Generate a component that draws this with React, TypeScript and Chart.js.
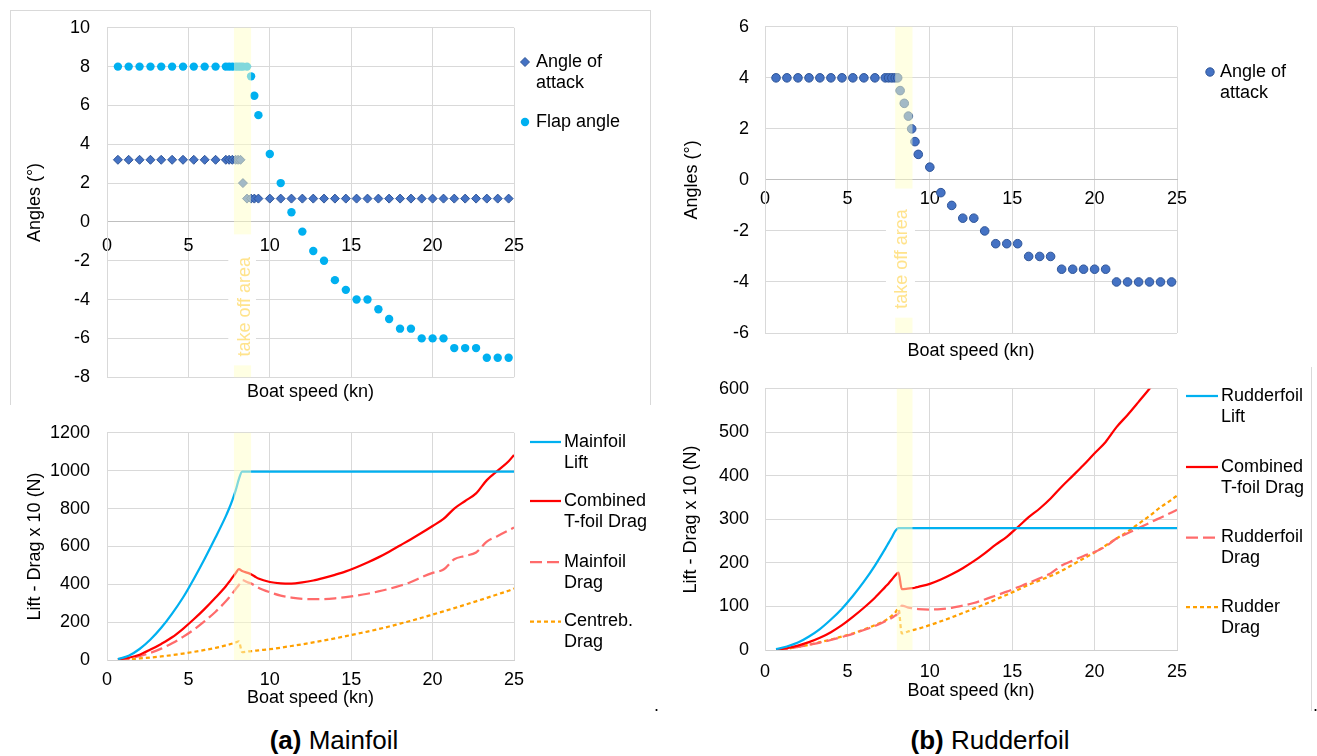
import React, { useEffect, useRef } from 'react';
import { Chart, registerables } from 'chart.js';

Chart.register(...registerables);

const FONT = "'Liberation Sans', Arial, Helvetica, sans-serif";
Chart.defaults.font.family = FONT;
Chart.defaults.font.size = 18;
Chart.defaults.color = '#000';

// ---------- Mainfoil angles (kn, degrees) ----------
const mainSpeeds = [
  0.67, 1.33, 2.0, 2.67, 3.33, 4.0, 4.67, 5.33, 6.0, 6.67,
  7.3, 7.5, 7.7, 7.9, 8.05, 8.2, 8.35, 8.6, 8.85, 9.05, 9.3,
  10.0, 10.67, 11.33, 12.0, 12.67, 13.33, 14.0, 14.67, 15.33, 16.0, 16.67, 17.33,
  18.0, 18.67, 19.33, 20.0, 20.67, 21.33, 22.0, 22.67, 23.33, 24.0, 24.67,
];
const mainAoa = [
  3.2, 3.2, 3.2, 3.2, 3.2, 3.2, 3.2, 3.2, 3.2, 3.2,
  3.2, 3.2, 3.2, 3.2, 3.2, 3.2, 2.0, 1.2, 1.2, 1.2, 1.2,
  1.2, 1.2, 1.2, 1.2, 1.2, 1.2, 1.2, 1.2, 1.2, 1.2, 1.2, 1.2,
  1.2, 1.2, 1.2, 1.2, 1.2, 1.2, 1.2, 1.2, 1.2, 1.2, 1.2,
];
const mainFlap = [
  8, 8, 8, 8, 8, 8, 8, 8, 8, 8,
  8, 8, 8, 8, 8, 8, 8, 8, 7.5, 6.5, 5.5,
  3.5, 2.0, 0.5, -0.5, -1.5, -2.0, -3.0, -3.5, -4.0, -4.0, -4.5, -5.0,
  -5.5, -5.5, -6.0, -6.0, -6.0, -6.5, -6.5, -6.5, -7.0, -7.0, -7.0,
];

// ---------- Rudderfoil angle (kn, degrees) ----------
const rudderSpeeds = [
  0.67, 1.33, 2.0, 2.67, 3.33, 4.0, 4.67, 5.33, 6.0, 6.67,
  7.3, 7.5, 7.7, 7.9, 8.05, 8.2, 8.45, 8.7, 8.9, 9.1, 9.3,
  10.0, 10.67, 11.33, 12.0, 12.67, 13.33, 14.0, 14.67, 15.33, 16.0, 16.67, 17.33,
  18.0, 18.67, 19.33, 20.0, 20.67, 21.33, 22.0, 22.67, 23.33, 24.0, 24.67,
];
const rudderAoa = [
  4, 4, 4, 4, 4, 4, 4, 4, 4, 4,
  4, 4, 4, 4, 4, 3.5, 3.0, 2.5, 2.0, 1.5, 1.0,
  0.5, -0.5, -1.0, -1.5, -1.5, -2.0, -2.5, -2.5, -2.5, -3.0, -3.0, -3.0,
  -3.5, -3.5, -3.5, -3.5, -3.5, -4.0, -4.0, -4.0, -4.0, -4.0, -4.0,
];

// ---------- Forces (kn, N/10) ----------
const forceSpeeds = [
  0.67, 1.33, 2.0, 2.67, 3.33, 4.0, 4.67, 5.33, 6.0, 6.67,
  7.3, 7.5, 7.7, 7.9, 8.1, 8.3, 8.65, 8.9, 9.1, 9.3,
  10.0, 10.67, 11.33, 12.0, 12.67, 13.33, 14.0, 14.67, 15.33, 16.0, 16.67, 17.33,
  18.0, 18.67, 19.33, 20.0, 20.67, 21.33, 22.0, 22.67, 23.33, 24.0, 24.67, 25.0,
];
const mainLift = [
  5, 22, 58, 108, 170, 245, 330, 428, 535, 648,
  760, 800, 845, 895, 955, 995, 995, 995, 995, 995,
  995, 995, 995, 995, 995, 995, 995, 995, 995, 995, 995, 995,
  995, 995, 995, 995, 995, 995, 995, 995, 995, 995, 995, 995,
];
const mainCombinedDrag = [
  3, 12, 28, 55, 85, 120, 165, 215, 270, 330,
  390, 412, 435, 458, 480, 470, 460, 450, 440, 430,
  412, 405, 404, 410, 420, 434, 450, 468, 490, 515, 542, 572,
  605, 638, 672, 708, 745, 800, 840, 880, 950, 1000, 1050, 1083,
];
const mainfoilDrag = [
  2, 8, 20, 38, 60, 88, 122, 160, 205, 255,
  310, 330, 352, 374, 396, 422, 410, 402, 392, 382,
  358, 340, 330, 323, 321, 322, 326, 332, 340, 350, 362, 376,
  392, 412, 438, 460, 478, 532, 550, 568, 625, 655, 685, 700,
];
const centrebDrag = [
  1, 4, 8, 13, 19, 26, 34, 43, 53, 64,
  77, 82, 87, 92, 98, 42, 45, 47, 49, 51,
  57, 65, 74, 83, 93, 103, 114, 126, 138, 150, 163, 177,
  192, 207, 223, 240, 257, 274, 292, 310, 328, 347, 366, 378,
];
const rudderLift = [
  2, 8, 17, 31, 48, 70, 95, 124, 157, 194,
  233, 246, 259, 273, 280, 280, 280, 280, 280, 280,
  280, 280, 280, 280, 280, 280, 280, 280, 280, 280, 280, 280,
  280, 280, 280, 280, 280, 280, 280, 280, 280, 280, 280, 280,
];
const rudderCombinedDrag = [
  1, 4, 10, 18, 28, 41, 57, 76, 97, 120,
  145, 153, 162, 171, 178, 140, 141, 142, 143, 145,
  152, 162, 174, 188, 204, 222, 242, 260, 282, 305, 325, 348,
  375, 400, 425, 452, 478, 512, 540, 570, 600, 632, 662, 678,
];
const rudderfoilDrag = [
  1, 3, 7, 12, 17, 23, 30, 37, 46, 55,
  66, 70, 74, 79, 84, 102, 98, 96, 95, 94,
  93, 94, 97, 102, 108, 116, 125, 134, 144, 154, 165, 176,
  194, 205, 216, 225, 238, 256, 268, 280, 292, 304, 316, 322,
];
const rudderDrag = [
  1, 3, 7, 12, 18, 24, 31, 38, 47, 57,
  68, 73, 79, 86, 95, 38, 42, 45, 47, 49,
  57, 66, 75, 85, 95, 105, 116, 127, 138, 150, 160, 170,
  182, 196, 210, 224, 240, 256, 272, 290, 308, 328, 345, 355,
];

const GRID = '#D9D9D9';
const BLUE_DARK = '#4472C4';
const BLUE_EDGE = '#2F5597';
const CYAN = '#00B0F0';
const RED = '#FF0000';
const SALMON = '#FF6B6B';
const ORANGE = '#FFA000';
const LONG_DASH = [12, 5];
const SHORT_DASH = [4, 3];

const pts = (xs: number[], ys: number[]) => xs.map((x, i) => ({ x, y: ys[i] }));

type LegendItem = {
  lines: string[];
  kind: 'diamond' | 'circle' | 'line';
  fill?: string;
  stroke?: string;
  dash?: number[];
  y: number;
};
type LegendCfg = { markX: number; textX: number; lineW?: number; items: LegendItem[] };

// Side legend with two-line labels, drawn on the chart canvas.
function sideLegend(cfg: LegendCfg) {
  return {
    id: 'sideLegend',
    afterDraw(chart: any) {
      const ctx: CanvasRenderingContext2D = chart.ctx;
      ctx.save();
      for (const it of cfg.items) {
        ctx.save();
        if (it.kind === 'line') {
          ctx.strokeStyle = it.stroke || '#000';
          ctx.lineWidth = 2.25;
          ctx.setLineDash(it.dash || []);
          ctx.beginPath();
          ctx.moveTo(cfg.markX, it.y);
          ctx.lineTo(cfg.markX + (cfg.lineW || 30), it.y);
          ctx.stroke();
        } else if (it.kind === 'diamond') {
          const r = 4.5;
          ctx.fillStyle = it.fill || '#000';
          ctx.strokeStyle = it.stroke || it.fill || '#000';
          ctx.lineWidth = 1;
          ctx.beginPath();
          ctx.moveTo(cfg.markX - r, it.y);
          ctx.lineTo(cfg.markX, it.y - r);
          ctx.lineTo(cfg.markX + r, it.y);
          ctx.lineTo(cfg.markX, it.y + r);
          ctx.closePath();
          ctx.fill();
          ctx.stroke();
        } else {
          ctx.fillStyle = it.fill || '#000';
          ctx.beginPath();
          ctx.arc(cfg.markX, it.y, 4.2, 0, Math.PI * 2);
          ctx.fill();
          if (it.stroke) {
            ctx.strokeStyle = it.stroke;
            ctx.lineWidth = 1;
            ctx.stroke();
          }
        }
        ctx.restore();
        ctx.font = `18px ${FONT}`;
        ctx.fillStyle = '#000';
        ctx.textAlign = 'left';
        ctx.textBaseline = 'middle';
        it.lines.forEach((t, i) => ctx.fillText(t, cfg.textX, it.y + i * 21));
      }
      ctx.restore();
    },
  };
}

type TextBox = { x0: number; x1: number; y0: number; y1: number; cx: number; cy: number };

// Shaded take-off speed band, optionally with a vertical caption on a white box.
function takeOffBand(from: number, to: number, box?: TextBox) {
  return {
    id: 'takeOffBand',
    afterDatasetsDraw(chart: any) {
      const { ctx, chartArea: ca, scales } = chart;
      const x = scales.x;
      const y = scales.y;
      const x0 = x.getPixelForValue(from);
      const x1 = x.getPixelForValue(to);
      ctx.save();
      ctx.fillStyle = 'rgba(255,255,200,0.5)';
      ctx.fillRect(x0, ca.top, x1 - x0, ca.bottom - ca.top);
      if (box) {
        const bx0 = x.getPixelForValue(box.x0);
        const bx1 = x.getPixelForValue(box.x1);
        const by0 = y.getPixelForValue(box.y0);
        const by1 = y.getPixelForValue(box.y1);
        ctx.fillStyle = '#FFFFFF';
        ctx.fillRect(bx0, by0, bx1 - bx0, by1 - by0);
        ctx.translate(x.getPixelForValue(box.cx), y.getPixelForValue(box.cy));
        ctx.rotate(-Math.PI / 2);
        ctx.font = `18px ${FONT}`;
        ctx.fillStyle = '#FFE38C';
        ctx.textAlign = 'center';
        ctx.textBaseline = 'middle';
        ctx.fillText('take off area', 0, 0);
      }
      ctx.restore();
    },
  };
}

const plainNum = (v: any) => String(v);

function yScale(min: number, max: number, step: number, title: string, width: number, pad: number) {
  return {
    type: 'linear',
    min,
    max,
    ticks: { stepSize: step, padding: pad, callback: plainNum, font: { size: 18 }, color: '#000' },
    grid: { color: GRID, drawTicks: false },
    border: { color: GRID },
    title: { display: true, text: title, font: { size: 18 }, color: '#000', padding: { top: 4, bottom: 4 } },
    afterFit: (s: any) => {
      s.width = width;
    },
  };
}

function baseOptions(padding: any, scales: any, bottomTitle?: number) {
  return {
    responsive: false,
    maintainAspectRatio: false,
    animation: false,
    devicePixelRatio: 1,
    events: [],
    layout: { padding },
    plugins: {
      legend: { display: false },
      tooltip: { enabled: false },
      title:
        bottomTitle !== undefined
          ? {
              display: true,
              position: 'bottom',
              fullSize: false,
              text: 'Boat speed (kn)',
              font: { size: 18, weight: 'normal' },
              color: '#000',
              padding: { top: bottomTitle, bottom: 0 },
            }
          : { display: false },
    },
    scales,
  };
}

function mainAnglesConfig(): any {
  return {
    type: 'scatter',
    data: {
      datasets: [
        {
          label: 'Angle of attack',
          data: pts(mainSpeeds, mainAoa),
          pointStyle: 'rectRot',
          pointRadius: 4.5,
          backgroundColor: BLUE_DARK,
          borderColor: BLUE_EDGE,
          borderWidth: 1,
          order: 2,
        },
        {
          label: 'Flap angle',
          data: pts(mainSpeeds, mainFlap),
          pointStyle: 'circle',
          pointRadius: 4.2,
          backgroundColor: CYAN,
          borderColor: CYAN,
          borderWidth: 0,
          order: 1,
        },
      ],
    },
    options: baseOptions({ left: 20, top: 24, right: 141, bottom: 1.2 }, {
      x: {
        type: 'linear',
        min: 0,
        max: 25,
        position: { y: 0 },
        ticks: { stepSize: 5, padding: 13, callback: plainNum, color: '#000' },
        grid: { color: GRID, drawTicks: false },
        border: { color: '#BFBFBF' },
      },
      y: yScale(-8, 10, 2, 'Angles (°)', 87, 17),
    }, 4.2),
    plugins: [
      takeOffBand(7.8, 8.85, { x0: 7.45, x1: 9.15, y0: -0.64, y1: -7.39, cx: 8.48, cy: -4.37 }),
      sideLegend({
        markX: 525,
        textX: 536,
        items: [
          { lines: ['Angle of', 'attack'], kind: 'diamond', fill: BLUE_DARK, stroke: BLUE_EDGE, y: 62 },
          { lines: ['Flap angle'], kind: 'circle', fill: CYAN, y: 122 },
        ],
      }),
    ],
  };
}

function rudderAnglesConfig(): any {
  return {
    type: 'scatter',
    data: {
      datasets: [
        {
          label: 'Angle of attack',
          data: pts(rudderSpeeds, rudderAoa),
          pointStyle: 'circle',
          pointRadius: 4.3,
          backgroundColor: BLUE_DARK,
          borderColor: BLUE_EDGE,
          borderWidth: 1,
        },
      ],
    },
    options: baseOptions({ left: 17, top: 15, right: 140, bottom: 0.2 }, {
      x: {
        type: 'linear',
        min: 0,
        max: 25,
        position: { y: 0 },
        ticks: { stepSize: 5, padding: 8, callback: plainNum, color: '#000' },
        grid: { color: GRID, drawTicks: false },
        border: { color: '#BFBFBF' },
      },
      y: yScale(-6, 6, 2, 'Angles (°)', 88, 16),
    }, 7.2),
    plugins: [
      takeOffBand(7.9, 8.95, { x0: 7.34, x1: 9.1, y0: -0.34, y1: -5.4, cx: 8.31, cy: -3.1 }),
      sideLegend({
        markX: 550,
        textX: 560,
        items: [{ lines: ['Angle of', 'attack'], kind: 'circle', fill: BLUE_DARK, stroke: BLUE_EDGE, y: 72 }],
      }),
    ],
  };
}

function lineSet(label: string, ys: number[], color: string, dash: number[]) {
  return {
    label,
    data: pts(forceSpeeds, ys),
    showLine: true,
    fill: false,
    borderColor: color,
    backgroundColor: color,
    borderWidth: 2.25,
    borderDash: dash,
    pointRadius: 0,
    pointHoverRadius: 0,
    cubicInterpolationMode: 'monotone',
  };
}

function forceXScale(tickPad: number, height: number) {
  return {
    type: 'linear',
    min: 0,
    max: 25,
    position: 'bottom',
    ticks: { stepSize: 5, padding: tickPad, callback: plainNum, color: '#000' },
    grid: { color: GRID, drawTicks: false },
    border: { color: '#CFCFCF' },
    title: { display: true, text: 'Boat speed (kn)', font: { size: 18 }, color: '#000', padding: { top: 0, bottom: 0 } },
    afterFit: (s: any) => {
      s.height = height;
    },
  };
}

function mainForcesConfig(): any {
  return {
    type: 'scatter',
    data: {
      datasets: [
        lineSet('Mainfoil Lift', mainLift, CYAN, []),
        lineSet('Combined T-foil Drag', mainCombinedDrag, RED, []),
        lineSet('Mainfoil Drag', mainfoilDrag, SALMON, LONG_DASH),
        lineSet('Centreb. Drag', centrebDrag, ORANGE, SHORT_DASH),
      ],
    },
    options: baseOptions({ left: 20, top: 18, right: 141, bottom: 6.2 }, {
      x: forceXScale(9.2, 48.8),
      y: yScale(0, 1200, 200, 'Lift - Drag x 10 (N)', 87, 17),
    }),
    plugins: [
      takeOffBand(7.8, 8.85),
      sideLegend({
        markX: 530,
        textX: 564,
        lineW: 31,
        items: [
          { lines: ['Mainfoil', 'Lift'], kind: 'line', stroke: CYAN, y: 37 },
          { lines: ['Combined', 'T-foil Drag'], kind: 'line', stroke: RED, y: 96 },
          { lines: ['Mainfoil', 'Drag'], kind: 'line', stroke: SALMON, dash: LONG_DASH, y: 157 },
          { lines: ['Centreb.', 'Drag'], kind: 'line', stroke: ORANGE, dash: SHORT_DASH, y: 216.5 },
        ],
      }),
    ],
  };
}

function rudderForcesConfig(): any {
  return {
    type: 'scatter',
    data: {
      datasets: [
        lineSet('Rudderfoil Lift', rudderLift, CYAN, []),
        lineSet('Combined T-foil Drag', rudderCombinedDrag, RED, []),
        lineSet('Rudderfoil Drag', rudderfoilDrag, SALMON, LONG_DASH),
        lineSet('Rudder Drag', rudderDrag, ORANGE, SHORT_DASH),
      ],
    },
    options: baseOptions({ left: 16, top: 13, right: 140, bottom: 13.2 }, {
      x: forceXScale(11.2, 51.8),
      y: yScale(0, 600, 100, 'Lift - Drag x 10 (N)', 89, 16),
    }),
    plugins: [
      takeOffBand(8.0, 8.95),
      sideLegend({
        markX: 526,
        textX: 561,
        lineW: 32,
        items: [
          { lines: ['Rudderfoil', 'Lift'], kind: 'line', stroke: CYAN, y: 34 },
          { lines: ['Combined', 'T-foil Drag'], kind: 'line', stroke: RED, y: 105 },
          { lines: ['Rudderfoil', 'Drag'], kind: 'line', stroke: SALMON, dash: LONG_DASH, y: 175.5 },
          { lines: ['Rudder', 'Drag'], kind: 'line', stroke: ORANGE, dash: SHORT_DASH, y: 245 },
        ],
      }),
    ],
  };
}

function ChartBox(props: { left: number; top: number; width: number; height: number; make: () => any }) {
  const ref = useRef<HTMLCanvasElement>(null);
  useEffect(() => {
    const chart = new Chart(ref.current as HTMLCanvasElement, props.make());
    return () => chart.destroy();
  }, []);
  return (
    <canvas
      ref={ref}
      width={props.width}
      height={props.height}
      style={{ position: 'absolute', left: props.left, top: props.top, width: props.width, height: props.height }}
    />
  );
}

const captionStyle: React.CSSProperties = {
  position: 'absolute',
  top: 725,
  height: 30,
  lineHeight: '30px',
  fontFamily: FONT,
  fontSize: 26,
  color: '#000',
  textAlign: 'center',
  whiteSpace: 'nowrap',
};

const dotStyle: React.CSSProperties = {
  position: 'absolute',
  top: 696,
  fontFamily: FONT,
  fontSize: 18,
  lineHeight: '18px',
  color: '#000',
};

export default function App() {
  return (
    <div
      style={{
        position: 'absolute',
        left: 0,
        top: 0,
        width: 1317,
        height: 756,
        background: '#fff',
        overflow: 'hidden',
      }}
    >
      <div
        style={{
          position: 'absolute',
          left: 10,
          top: 10,
          width: 641,
          height: 395,
          boxSizing: 'border-box',
          borderTop: `1px solid ${GRID}`,
          borderLeft: `1px solid ${GRID}`,
          borderRight: `1px solid ${GRID}`,
        }}
      />
      <div style={{ position: 'absolute', left: 1311, top: 367, width: 1, height: 344, background: GRID }} />
      <ChartBox left={0} top={0} width={655} height={405} make={mainAnglesConfig} />
      <ChartBox left={660} top={0} width={657} height={362} make={rudderAnglesConfig} />
      <ChartBox left={0} top={405} width={655} height={310} make={mainForcesConfig} />
      <ChartBox left={660} top={362} width={657} height={353} make={rudderForcesConfig} />
      <span style={{ ...dotStyle, left: 654 }}>.</span>
      <span style={{ ...dotStyle, left: 1313 }}>.</span>
      <div style={{ ...captionStyle, left: 234, width: 200 }}>
        <b>(a)</b> Mainfoil
      </div>
      <div style={{ ...captionStyle, left: 890, width: 200 }}>
        <b>(b)</b> Rudderfoil
      </div>
    </div>
  );
}
